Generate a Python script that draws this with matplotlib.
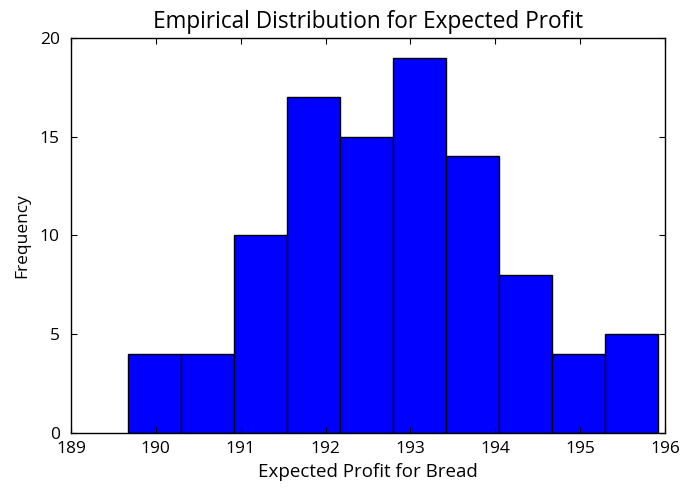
import numpy as np
import matplotlib
matplotlib.use("Agg")
import matplotlib.pyplot as plt

plt.rcParams['font.family'] = ['Open Sans', 'DejaVu Sans']

# histogram
bin_edges = np.linspace(189.67, 195.916, 11)
counts = [4, 4, 10, 17, 15, 19, 14, 8, 4, 5]

fig = plt.figure(figsize=(6.82, 4.88), dpi=100)
ax = fig.add_axes([0.104, 0.1127, 0.871, 0.8095])

ax.hist(bin_edges[:-1], bins=bin_edges, weights=counts,
        color='#0000ff', edgecolor='black', linewidth=1.0)

ax.set_xlim(189, 196)
ax.set_ylim(0, 20)
ax.set_xticks(range(189, 197))
ax.set_yticks(range(0, 21, 5))
ax.tick_params(direction='in', top=True, right=True, length=4, labelsize=12.5)
ax.tick_params(axis='x', pad=6)
ax.tick_params(axis='y', pad=8)
for s in ax.spines.values():
    s.set_linewidth(1.0)

ax.set_title('Empirical Distribution for Expected Profit', fontsize=16.3, pad=7)
ax.set_xlabel('Expected Profit for Bread', fontsize=13.5, labelpad=4)
ax.set_ylabel('Frequency', fontsize=12.5, labelpad=7)

fig.savefig('out.png', dpi=100)
